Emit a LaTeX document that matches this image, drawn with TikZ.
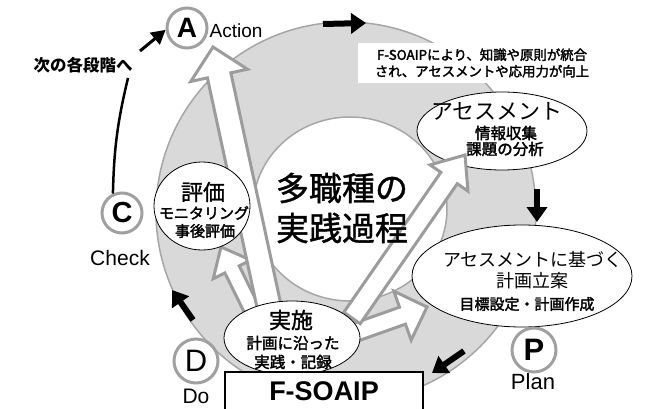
\documentclass[tikz,border=0pt]{standalone}
\usepackage{fontspec}
\setmainfont{Liberation Sans}
\newfontfamily\jp{Noto Sans CJK JP}
\newfontfamily\jpm{Noto Sans CJK JP}[FakeBold=1.2]
\newfontfamily\jpmm{Noto Sans CJK JP}[FakeBold=2.2]
\usetikzlibrary{shapes.geometric,arrows.meta,calc}
\definecolor{ringfill}{HTML}{D9D9D9}
\definecolor{ringline}{HTML}{A6A6A6}
\definecolor{arrgray}{HTML}{9C9C9C}
\definecolor{circgray}{HTML}{A0A0A0}
\pgfdeclarelayer{back}
\pgfdeclarelayer{mid}
\pgfdeclarelayer{top}
\pgfsetlayers{back,mid,main,top}
\newcommand{\setfs}[1]{\fontsize{#1}{#1}\selectfont}
% block arrow: tail, tip, half shaft, half head, head length
\newcommand{\blkarrow}[5]{%
  \coordinate (bkB) at ($(#2)!#5!(#1)$);
  \draw[blk] ($(#1)!#3!90:(#2)$) -- ($(bkB)!#3!-90:(#1)$) -- ($(bkB)!#4!-90:(#1)$) -- (#2)
     -- ($(bkB)!#4!90:(#1)$) -- ($(bkB)!#3!90:(#1)$) -- ($(#1)!#3!-90:(#2)$) -- cycle;}
\begin{document}
\begin{tikzpicture}[x=1pt,y=-1pt,
  ell/.style={ellipse,draw=black,line width=0.8pt,fill=white,inner sep=0pt},
  blk/.style={draw=arrgray,line width=3pt,fill=white,line join=miter},
  lettercirc/.style={circle,draw=circgray,line width=3pt,inner sep=0pt,minimum size=#1},
  ringarr/.style={line width=6pt,-{Triangle[length=15pt,width=20pt]}},
  jptxt/.style={font=\jp\setfs{#1}},
  jpmed/.style={font=\jpm\setfs{#1}},
  jpsemi/.style={font=\jpmm\setfs{#1}},
  jpbold/.style={font=\jp\bfseries\setfs{#1}},
  lat/.style={font=\setfs{#1}}]
\useasboundingbox (0,0) rectangle (661,409);

% ring
\begin{pgfonlayer}{back}
  \filldraw[fill=ringfill,draw=ringline,line width=1.5pt] (346,212) circle[radius=190pt];
  \filldraw[fill=white,draw=ringline,line width=1.5pt] (350,209) ellipse[x radius=97pt,y radius=92pt];
\end{pgfonlayer}

% top text box
\node[fill=white,minimum width=249pt,minimum height=40pt,inner sep=0pt,align=center,
      font=\jpmm\fontsize{13.4}{16.5}\selectfont] (note) at (482,63)
  {F-SOAIPにより、知識や原則が統合\\され、アセスメントや応用力が向上};

% ellipses
\node[ell,minimum width=96pt,minimum height=88pt] (hyouka) at (202,206) {};
\node[jpmed=22] at (203,192) {評価};
\node[jpsemi=15] at (204,213) {モニタリング};
\node[jpsemi=15] at (205,231) {事後評価};

\node[ell,minimum width=170pt,minimum height=78pt] (assess) at (502,131) {};
\node[jptxt=22] at (497,111) {アセスメント};
\node[jpsemi=15.5] at (506,133) {情報収集};
\node[jpsemi=15.5] at (505,149) {課題の分析};

\node[ell,minimum width=220pt,minimum height=102pt] (keikaku) at (522,276) {};
\node[jptxt=18] at (533,260) {アセスメントに基づく};
\node[jptxt=18] at (532,281) {計画立案};
\node[jpsemi=15] at (527,304) {目標設定・計画作成};

\begin{pgfonlayer}{top}
  \node[ell,minimum width=136pt,minimum height=74pt] (jisshi) at (292,338) {};
  \node[jpmed=22] at (291,320) {実施};
  \node[jpsemi=15.5] at (293,343) {計画に沿った};
  \node[jpsemi=15.5] at (293,362) {実践・記録};
  \node[draw=black,line width=1.5pt,fill=white,minimum width=198pt,minimum height=38pt,
        inner sep=0pt,font=\bfseries\setfs{27}] (fsoaip) at (324,391) {F-SOAIP};
\end{pgfonlayer}

% letter circles
\node[lettercirc=40pt,font=\bfseries\setfs{28}] (cA) at (187,28) {A};
\node[lettercirc=40pt,font=\bfseries\setfs{29}] (cC) at (122,213) {C};
\node[lettercirc=44pt,font=\setfs{31}] (cD) at (196,361) {D};
\node[lettercirc=44pt,font=\bfseries\setfs{31}] (cP) at (534,350) {P};
\node[lat=19] (tAction) at (236,31) {Action};
\node[lat=21] (tCheck) at (120,258) {Check};
\node[lat=21] (tDo) at (196,396) {Do};
\node[lat=22] (tPlan) at (533,382) {Plan};

% block arrows
\coordinate (tH) at ($(jisshi.center)+(-36,-20)$);
\coordinate (hH) at ($(hyouka.center)+(19,41)$);
\coordinate (tA) at ($(jisshi.center)+(-20,-18)$);
\coordinate (hA) at ($(cA.center)+(26,19)$);
\coordinate (tS) at ($(jisshi.center)+(60,-20)$);
\coordinate (hS) at ($(assess.center)+(-37,24)$);
\coordinate (tK) at ($(jisshi.center)+(53,-2)$);
\coordinate (hK) at ($(keikaku.center)+(-95,31)$);
\begin{pgfonlayer}{mid}
  \blkarrow{tH}{hH}{8pt}{21pt}{25pt}
  \blkarrow{tA}{hA}{12pt}{29pt}{29pt}
  \blkarrow{tK}{hK}{9pt}{26pt}{26pt}
\end{pgfonlayer}
\blkarrow{tS}{hS}{10pt}{23pt}{28pt}

% centre text
\node[jpmed=33] (ctr1) at (342,188) {多職種の};
\node[jpmed=33] (ctr2) at (342,228) {実践過程};

% black arrows on the ring
\coordinate (r1a) at (323,24);  \coordinate (r1b) at (366,23);
\coordinate (r2a) at (537,189); \coordinate (r2b) at (537,222);
\coordinate (r3a) at (464,351); \coordinate (r3b) at (432,373);
\coordinate (r4a) at (193,320); \coordinate (r4b) at (172,290);
\draw[ringarr] (r1a) -- (r1b);
\draw[ringarr] (r2a) -- (r2b);
\draw[ringarr] (r3a) -- (r3b);
\draw[ringarr] (r4a) -- (r4b);

% next stage arrow
\node[jpbold=16.5] (tNext) at (83,65) {次の各段階へ};
\coordinate (nxTop) at (128,78);
\coordinate (nxTail) at (140,51);
\draw[line width=2.5pt] (cC.115) to[bend left=6] (nxTop);
\draw[line width=3pt,-{Triangle[length=14pt,width=15pt]}] (nxTail) -- (cA.185);
\end{tikzpicture}
\end{document}
